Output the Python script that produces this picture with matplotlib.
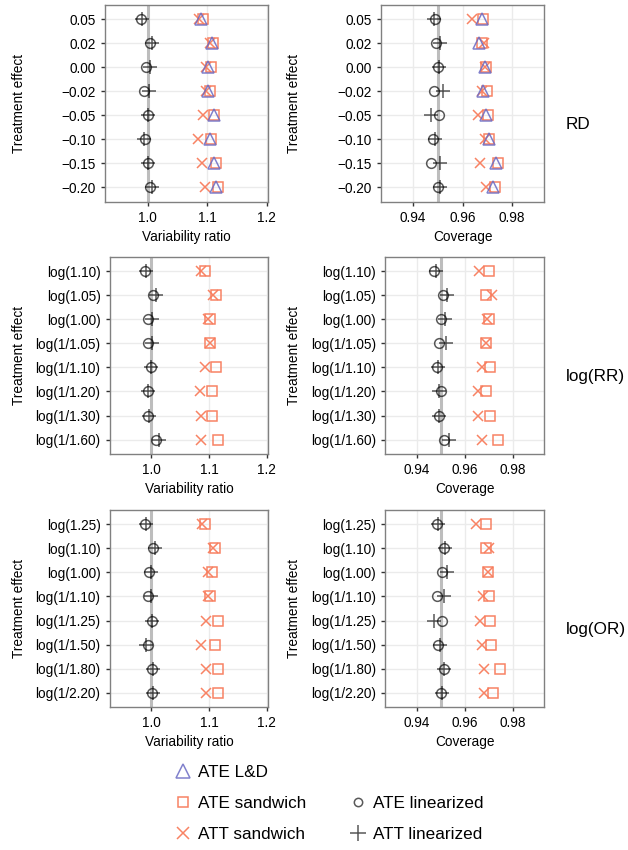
import matplotlib
matplotlib.use('Agg')
import matplotlib.pyplot as plt
from matplotlib.lines import Line2D
from matplotlib.transforms import blended_transform_factory

plt.rcParams['font.family'] = ['Liberation Sans', 'DejaVu Sans']

M = '\u2212'

# treatment effect levels, top to bottom
rd_levels = ['0.05', '0.02', '0.00', M + '0.02', M + '0.05', M + '0.10', M + '0.15', M + '0.20']
rr_levels = ['log(1.10)', 'log(1.05)', 'log(1.00)', 'log(1/1.05)', 'log(1/1.10)',
             'log(1/1.20)', 'log(1/1.30)', 'log(1/1.60)']
or_levels = ['log(1.25)', 'log(1.10)', 'log(1.00)', 'log(1/1.10)', 'log(1/1.25)',
             'log(1/1.50)', 'log(1/1.80)', 'log(1/2.20)']

# variability ratio
rd_vr_ld = [1.090, 1.108, 1.102, 1.101, 1.111, 1.104, 1.111, 1.115]
rd_vr_ate_sw = [1.093, 1.110, 1.106, 1.104, 1.112, 1.107, 1.114, 1.118]
rd_vr_att_sw = [1.087, 1.105, 1.098, 1.098, 1.093, 1.084, 1.092, 1.097]
rd_vr_ate_lin = [0.989, 1.004, 0.998, 0.994, 1.000, 0.996, 1.000, 1.004]
rd_vr_att_lin = [0.991, 1.007, 1.004, 1.002, 1.000, 0.994, 1.000, 1.007]

rr_vr_ate_sw = [1.094, 1.112, 1.102, 1.102, 1.112, 1.106, 1.106, 1.116]
rr_vr_att_sw = [1.087, 1.107, 1.099, 1.101, 1.094, 1.084, 1.086, 1.086]
rr_vr_ate_lin = [0.990, 1.004, 0.995, 0.994, 0.999, 0.995, 0.995, 1.008]
rr_vr_att_lin = [0.992, 1.008, 1.001, 1.002, 0.999, 0.994, 0.997, 1.014]

or_vr_ate_sw = [1.093, 1.110, 1.105, 1.101, 1.115, 1.110, 1.116, 1.116]
or_vr_att_sw = [1.088, 1.107, 1.099, 1.099, 1.095, 1.087, 1.095, 1.095]
or_vr_ate_lin = [0.990, 1.004, 0.997, 0.994, 1.002, 0.994, 1.001, 1.001]
or_vr_att_lin = [0.991, 1.007, 1.000, 1.000, 1.002, 0.992, 1.004, 1.004]

# coverage
rd_cov_ld = [0.9678, 0.9668, 0.9691, 0.9684, 0.9695, 0.9705, 0.9736, 0.9722]
rd_cov_ate_sw = [0.9684, 0.9678, 0.9694, 0.9698, 0.9702, 0.9705, 0.9741, 0.9732]
rd_cov_att_sw = [0.9637, 0.9687, 0.9691, 0.9678, 0.9664, 0.9691, 0.9671, 0.9695]
rd_cov_ate_lin = [0.9487, 0.9494, 0.9501, 0.9483, 0.9505, 0.9480, 0.9473, 0.9501]
rd_cov_att_lin = [0.9483, 0.9510, 0.9503, 0.9521, 0.9473, 0.9487, 0.9510, 0.9510]

rr_cov_ate_sw = [0.9699, 0.9688, 0.9699, 0.9690, 0.9706, 0.9690, 0.9706, 0.9737]
rr_cov_att_sw = [0.9658, 0.9713, 0.9692, 0.9690, 0.9672, 0.9654, 0.9654, 0.9672]
rr_cov_ate_lin = [0.9472, 0.9510, 0.9502, 0.9492, 0.9486, 0.9502, 0.9492, 0.9514]
rr_cov_att_lin = [0.9479, 0.9527, 0.9516, 0.9520, 0.9488, 0.9492, 0.9492, 0.9536]

or_cov_ate_sw = [0.9688, 0.9688, 0.9695, 0.9699, 0.9703, 0.9708, 0.9747, 0.9719]
or_cov_att_sw = [0.9648, 0.9699, 0.9695, 0.9675, 0.9664, 0.9671, 0.9681, 0.9678]
or_cov_ate_lin = [0.9485, 0.9512, 0.9506, 0.9485, 0.9506, 0.9488, 0.9512, 0.9501]
or_cov_att_lin = [0.9488, 0.9519, 0.9526, 0.9512, 0.9474, 0.9499, 0.9515, 0.9506]

row_names = ['RD', 'log(RR)', 'log(OR)']

LD_COL = '#6b6bc4'
SW_COL = '#f87c5c'
LIN_COL = 'black'

W, H = 628, 850
fig = plt.figure(figsize=(W / 100, H / 100), dpi=100)


def box(l, t, r, b):
    return [l / W, 1 - b / H, (r - l) / W, (b - t) / H]


def draw_panel(ax, levels, series, xlim, ticks, ref, xlabel, ylab_x):
    n = len(levels)
    y = [n - i for i in range(n)]
    ax.set_facecolor('white')
    ax.set_axisbelow(True)
    ax.grid(True, color='#ebebeb', lw=1.0)
    ax.axvline(ref, color='#bdbdbd', lw=2.2, zorder=1)
    ld, ate_sw, att_sw, ate_lin, att_lin = series
    if ld is not None:
        ax.plot(ld, y, ls='none', marker='^', ms=8.5, mfc='none', mec=LD_COL,
                mew=1.1, alpha=0.85, zorder=4)
    ax.plot(ate_sw, y, ls='none', marker='s', ms=7, mfc='none', mec=SW_COL,
            mew=1.1, alpha=0.95, zorder=3)
    ax.plot(att_sw, y, ls='none', marker='x', ms=7.5, mec=SW_COL,
            mew=1.1, alpha=0.95, zorder=3)
    ax.plot(ate_lin, y, ls='none', marker='o', ms=7, mfc='none', mec=LIN_COL,
            mew=1.1, alpha=0.65, zorder=3)
    ax.plot(att_lin, y, ls='none', marker='+', ms=10, mec=LIN_COL,
            mew=1.1, alpha=0.65, zorder=3)
    ax.set_xlim(*xlim)
    ax.set_ylim(0.4, n + 0.6)
    ax.set_xticks(ticks)
    ax.set_xticklabels([str(t) for t in ticks])
    ax.set_yticks(y)
    ax.set_yticklabels(levels)
    ax.tick_params(length=2.75, width=1.0, color='#333333', pad=4,
                   labelsize=9.8, labelcolor='black')
    for s in ax.spines.values():
        s.set_color('#808080')
        s.set_linewidth(1.0)
    ax.set_xlabel(xlabel, fontsize=9.8, labelpad=3.5)
    ax.set_ylabel('Treatment effect', fontsize=9.8)
    tr = blended_transform_factory(fig.transFigure, ax.transAxes)
    ax.yaxis.set_label_coords(ylab_x / W, 0.5, transform=tr)


rows = [
    (rd_levels, (rd_vr_ld, rd_vr_ate_sw, rd_vr_att_sw, rd_vr_ate_lin, rd_vr_att_lin),
     (rd_cov_ld, rd_cov_ate_sw, rd_cov_att_sw, rd_cov_ate_lin, rd_cov_att_lin),
     (105.3, 5, 381, 201.7)),
    (rr_levels, (None, rr_vr_ate_sw, rr_vr_att_sw, rr_vr_ate_lin, rr_vr_att_lin),
     (None, rr_cov_ate_sw, rr_cov_att_sw, rr_cov_ate_lin, rr_cov_att_lin),
     (110, 256.7, 385.3, 454)),
    (or_levels, (None, or_vr_ate_sw, or_vr_att_sw, or_vr_ate_lin, or_vr_att_lin),
     (None, or_cov_ate_sw, or_cov_att_sw, or_cov_ate_lin, or_cov_att_lin),
     (110, 510, 385.3, 707)),
]

for k, (levels, vr, cov, (l1, top, l2, bot)) in enumerate(rows):
    ax1 = fig.add_axes(box(l1, top, 268, bot))
    draw_panel(ax1, levels, vr, (0.929, 1.202), [1.0, 1.1, 1.2], 1.0,
               'Variability ratio', 26)
    ax2 = fig.add_axes(box(l2, top, 544.3, bot))
    draw_panel(ax2, levels, cov, (0.927, 0.993), [0.94, 0.96, 0.98], 0.95,
               'Coverage', 301)
    fig.text(566 / W, 1 - ((top + bot) / 2 + 21) / H, row_names[k],
             ha='left', va='center', fontsize=12.3)

handles = [
    Line2D([], [], ls='none', marker='^', ms=10, mfc='none', mec=LD_COL, mew=1.1, alpha=0.85),
    Line2D([], [], ls='none', marker='s', ms=7, mfc='none', mec=SW_COL, mew=1.1, alpha=0.95),
    Line2D([], [], ls='none', marker='x', ms=8, mec=SW_COL, mew=1.1, alpha=0.95),
    Line2D([], [], ls='none'),
    Line2D([], [], ls='none', marker='o', ms=6, mfc='none', mec=LIN_COL, mew=1.1, alpha=0.65),
    Line2D([], [], ls='none', marker='+', ms=11, mec=LIN_COL, mew=1.1, alpha=0.65),
]
labels = ['ATE L&D', 'ATE sandwich', 'ATT sandwich', '', 'ATE linearized', 'ATT linearized']
fig.legend(handles, labels, ncol=2, loc='upper left',
           bbox_to_anchor=(174.5 / W, 1 - 765 / H), frameon=False, fontsize=12.3,
           handlelength=1.0, handletextpad=0.38, columnspacing=2.55,
           labelspacing=0.95, borderpad=0, borderaxespad=0)

fig.savefig('out.png', dpi=100, facecolor='white')
